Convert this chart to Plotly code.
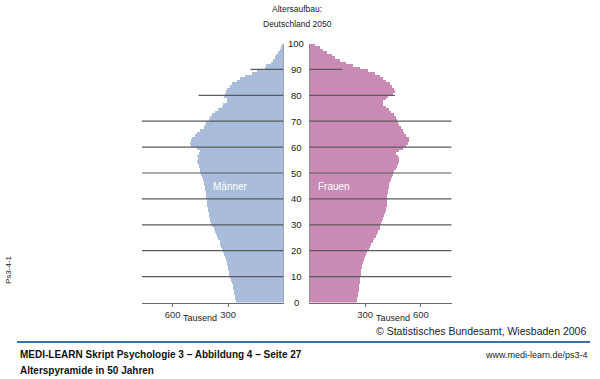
import plotly.graph_objects as go

# ---- data (thousands of persons per single year of age, 2050 projection) ----
ages = list(range(0, 100))
men = [257, 260, 262, 266, 270, 272, 276, 280, 285, 290,
       293, 296, 298, 302, 305, 307, 312, 318, 322, 328,
       334, 338, 343, 346, 352, 358, 363, 370, 378, 386,
       393, 397, 400, 403, 405, 408, 411, 414, 415, 416,
       418, 420, 422, 424, 427, 430, 433, 437, 441, 445,
       450, 454, 459, 465, 470, 462, 468, 460, 450, 468,
       503, 507, 503, 494, 477, 468, 450, 432, 423, 418,
       405, 396, 387, 370, 352, 334, 325, 307, 307, 320,
       316, 311, 304, 289, 280, 253, 236, 209, 173, 146,
       102, 93, 70, 57, 48, 39, 30, 21, 15, 8]
women = [257, 259, 262, 264, 266, 268, 270, 271, 273, 275,
         276, 278, 280, 282, 285, 288, 292, 298, 305, 312,
         319, 326, 334, 342, 348, 358, 364, 372, 378, 383,
         387, 392, 397, 402, 405, 410, 414, 417, 418, 419,
         419, 420, 421, 423, 427, 430, 434, 440, 446, 452,
         458, 465, 471, 476, 485, 485, 476, 467, 485, 503,
         521, 529, 539, 535, 521, 512, 503, 494, 481, 476,
         471, 467, 458, 441, 428, 414, 399, 396, 410, 422,
         449, 462, 458, 446, 432, 414, 396, 378, 351, 316,
         271, 235, 200, 164, 137, 120, 93, 75, 57, 30]
age_ticks = [0, 10, 20, 30, 40, 50, 60, 70, 80, 90, 100]
x_ticks = [300, 600]
x_tick_labels = ["300", "600"]
grid_ages = [10, 20, 30, 40, 50, 60, 70, 80, 90]
grid_extent = [766, 766, 766, 766, 766, 766, 766, 460, 178]

XMAX = 766
MEN_C = "#a9bcda"
WOM_C = "#c98bb5"
NARROW = "Liberation Sans Narrow, Arial Narrow, sans-serif"
BOLD = "Liberation Sans, Arial, sans-serif"

fig = go.Figure()
ymid = [a + 0.5 for a in ages]
fig.add_trace(go.Bar(x=men, y=ymid, orientation="h", width=1, xaxis="x", yaxis="y",
                     marker=dict(color=MEN_C, line=dict(width=0)), showlegend=False,
                     hoverinfo="skip"))
fig.add_trace(go.Bar(x=women, y=ymid, orientation="h", width=1, xaxis="x2", yaxis="y",
                     marker=dict(color=WOM_C, line=dict(width=0)), showlegend=False,
                     hoverinfo="skip"))

W, H = 600, 379
def px(x):
    return x / W
def py(y):
    return 1 - y / H

axis_common = dict(showgrid=False, zeroline=False, showline=True, linecolor="#6b6b6b",
                   linewidth=1, ticks="outside", ticklen=3, tickcolor="#6b6b6b",
                   tickvals=x_ticks, ticktext=x_tick_labels,
                   tickfont=dict(family=NARROW, size=9.5, color="#333"))
fig.update_layout(
    width=W, height=H, margin=dict(l=0, r=0, t=0, b=0),
    paper_bgcolor="white", plot_bgcolor="white", bargap=0,
    xaxis=dict(domain=[px(142), px(283.5)], range=[XMAX, 0], anchor="y", **axis_common),
    xaxis2=dict(domain=[px(309.3), px(451.7)], range=[0, XMAX], anchor="y", **axis_common),
    yaxis=dict(domain=[py(302.5), py(43.5)], range=[0, 100], visible=False),
)

shapes = []
# vertical zero lines
for xr in ["x", "x2"]:
    shapes.append(dict(type="line", xref=xr, yref="y", x0=0, x1=0, y0=0, y1=100,
                       line=dict(color="#6b6b6b", width=1)))
# horizontal grid lines over the bars
for a, ext in zip(grid_ages, grid_extent):
    for xr in ["x", "x2"]:
        shapes.append(dict(type="line", xref=xr, yref="y", x0=0, x1=ext, y0=a, y1=a,
                           layer="above", line=dict(color="#5a5a5a", width=1.2)))
# blue rule
shapes.append(dict(type="line", xref="paper", yref="paper", x0=px(17), x1=px(590),
                   y0=py(342), y1=py(342), line=dict(color="#3d6fb5", width=2)))
fig.update_layout(shapes=shapes)

ann = []
for a in age_ticks:
    ann.append(dict(x=px(296), y=a, xref="paper", yref="y", text=str(a), showarrow=False,
                    font=dict(family=NARROW, size=9.5, color="#222"), xanchor="center",
                    yanchor="middle"))
def txt(x, y, t, size=10, anchor="center", family=NARROW, color="#222", **kw):
    ann.append(dict(x=px(x), y=py(y), xref="paper", yref="paper", text=t, showarrow=False,
                    xanchor=anchor, yanchor="middle", font=dict(family=family, size=size,
                                                                 color=color), **kw))
txt(297, 9, "Altersaufbau:", size=8.5)
txt(297, 24, "Deutschland 2050", size=8.5)
txt(230, 186, "Männer", color="white")
txt(334, 186, "Frauen", color="white")
txt(200, 318, "Tausend", size=9)
txt(393, 318, "Tausend", size=9)
txt(588, 331, "© Statistisches Bundesamt, Wiesbaden 2006", size=10.5, anchor="right")
txt(18, 354, "<b>MEDI-LEARN Skript Psychologie 3 – Abbildung 4 – Seite 27</b>", size=10,
    anchor="left", family=BOLD, color="#111")
txt(590, 355, "www.medi-learn.de/ps3-4", size=9, anchor="right")
txt(18, 370, "<b>Alterspyramide in 50 Jahren</b>", size=10, anchor="left", family=BOLD,
    color="#111")
txt(8, 270, "Ps3-4-1", size=8, textangle=-90)
fig.update_layout(annotations=ann)

fig.write_html("out.html", config={"displayModeBar": False, "staticPlot": True},
               post_script="document.body.style.margin='0';document.body.style.overflow='hidden';")
